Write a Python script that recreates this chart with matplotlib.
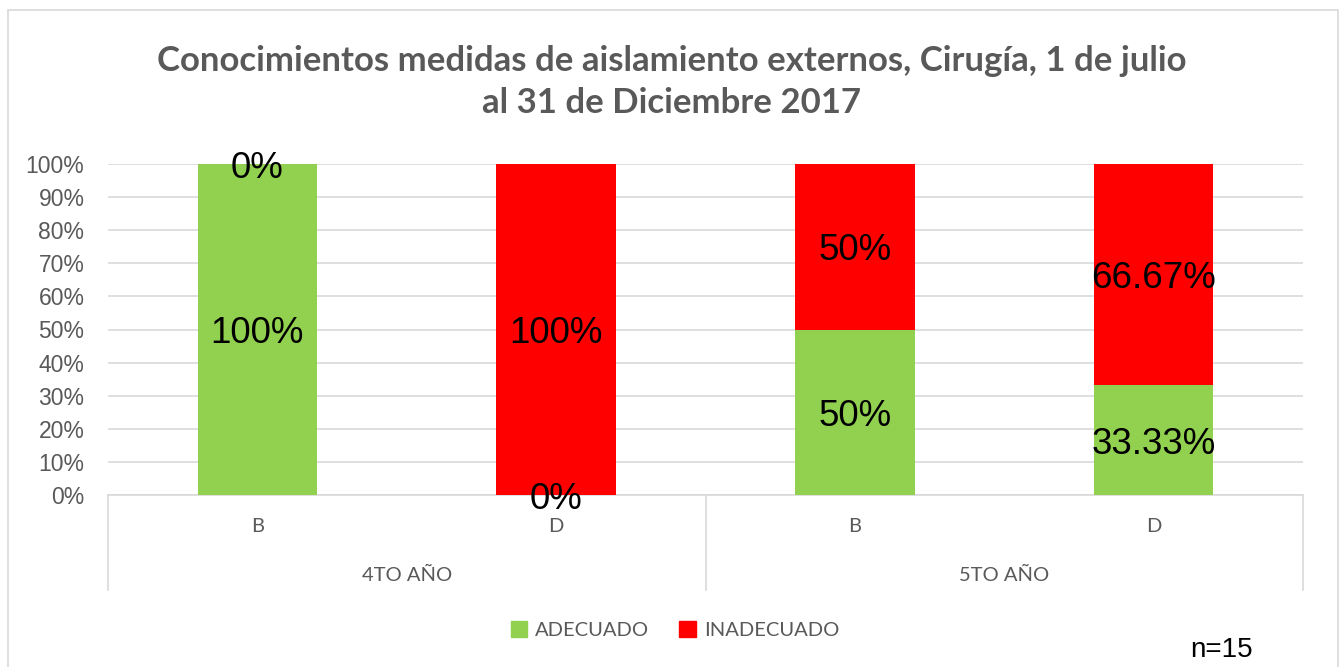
import matplotlib.pyplot as plt
from matplotlib.lines import Line2D
from matplotlib.patches import Patch, Rectangle
from matplotlib.transforms import blended_transform_factory

# data
groups = ["4TO AÑO", "5TO AÑO"]
subcats = ["B", "D", "B", "D"]
adecuado = [100, 0, 50, 33.33]
inadecuado = [0, 100, 50, 66.67]
lab_adecuado = ["100%", "0%", "50%", "33.33%"]
lab_inadecuado = ["0%", "100%", "50%", "66.67%"]

W, H = 1344, 667
fig = plt.figure(figsize=(W / 100, H / 100), dpi=100)
fig.patch.set_facecolor("white")

# outer chart border
fig.add_artist(Rectangle((8 / W, -0.05), (1338 - 8) / W, (667 - 10) / H + 0.05,
                         transform=fig.transFigure, fill=False,
                         edgecolor="#d9d9d9", lw=1.2))

ax = fig.add_axes([108 / W, (H - 495) / H, (1303 - 108) / W, (495 - 164) / H])

grey = "#595959"
green = "#92D050"
red = "#FF0000"
x = list(range(len(subcats)))

ax.bar(x, adecuado, width=0.4, color=green, zorder=3)
ax.bar(x, inadecuado, width=0.4, bottom=adecuado, color=red, zorder=3)

for i in x:
    ax.annotate(lab_adecuado[i], (i, adecuado[i] / 2), xytext=(0, -3),
                textcoords="offset points", ha="center", va="center",
                fontsize=26.5, family="Liberation Sans", color="black", zorder=5)
    ax.annotate(lab_inadecuado[i], (i, adecuado[i] + inadecuado[i] / 2),
                xytext=(0, -3), textcoords="offset points", ha="center",
                va="center", fontsize=26.5, family="Liberation Sans",
                color="black", zorder=5)

ax.set_xlim(-0.5, 3.5)
ax.set_ylim(0, 100)
ax.set_yticks(range(0, 101, 10))
ax.set_yticklabels([f"{v}%" for v in range(0, 101, 10)], family="Liberation Sans",
                   fontsize=16.5, color=grey)
ax.tick_params(axis="y", length=0, pad=17)
ax.set_xticks([])
for s in ["top", "right", "left"]:
    ax.spines[s].set_visible(False)
ax.spines["bottom"].set_color("#d9d9d9")
ax.spines["bottom"].set_linewidth(1.2)
ax.grid(axis="y", color="#d9d9d9", lw=1.2, zorder=0)

# multi-level category axis
tr = blended_transform_factory(ax.transData, fig.transFigure)
for i, s in enumerate(subcats):
    ax.text(i, (H - 527) / H, s, transform=tr, ha="center", va="center",
            fontsize=14.5, family="Lato", color=grey)
for g, name in enumerate(groups):
    ax.text(g * 2 + 0.5, (H - 575) / H, name, transform=tr, ha="center",
            va="center", fontsize=14.5, family="Lato", color=grey)
for xs in [-0.5, 1.5, 3.5]:
    ax.add_line(Line2D([xs, xs], [(H - 495) / H, (H - 590) / H], transform=tr,
                       color="#d9d9d9", lw=1.2, clip_on=False))

fig.text(672 / W, (H - 82) / H,
         "Conocimientos medidas de aislamiento externos, Cirugía, 1 de julio\nal 31 de Diciembre 2017",
         ha="center", va="center", fontsize=25, family="Lato", weight="bold",
         color=grey, linespacing=1.38)

handles = [Patch(color=green, label="ADECUADO"), Patch(color=red, label="INADECUADO")]
fig.legend(handles=handles, loc="center", bbox_to_anchor=(675 / W, (H - 630) / H),
           ncol=2, frameon=False, prop={"family": "Lato", "size": 14.5},
           labelcolor=grey, handlelength=0.8, handleheight=0.8, handletextpad=0.4,
           columnspacing=1.5)

fig.text(1222 / W, (H - 650) / H, "n=15", ha="center", va="center",
         fontsize=20, family="Liberation Sans", color="black")

fig.savefig("out.png", dpi=100)
